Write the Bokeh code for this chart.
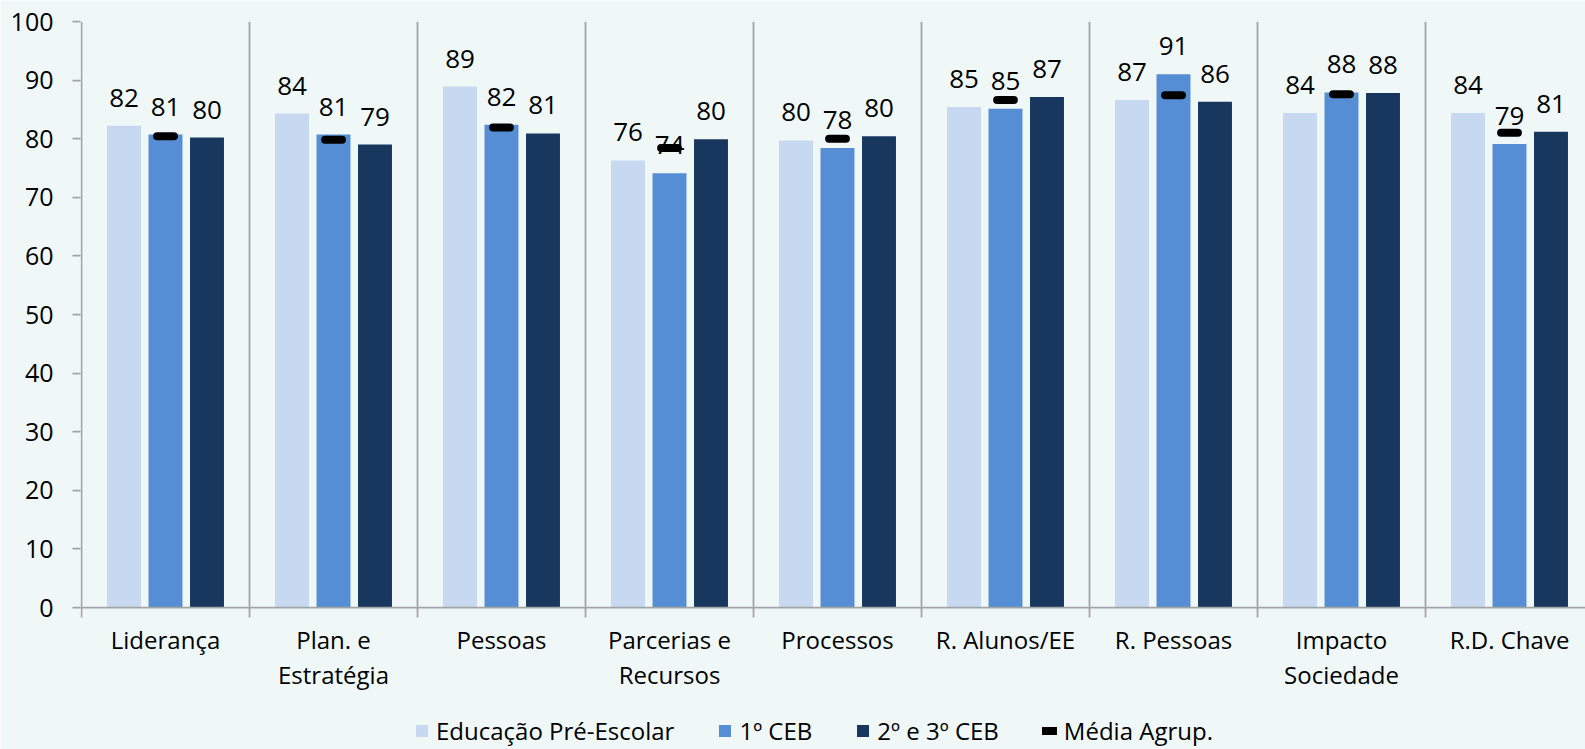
from bokeh.plotting import figure
from bokeh.models import Range1d, FixedTicker, Legend, LegendItem, ColumnDataSource
from bokeh.embed import file_html
from bokeh.resources import INLINE
from bokeh.core.properties import value

# ---- data ----
categories = ["Liderança", "Plan. e\nEstratégia", "Pessoas", "Parcerias e\nRecursos",
              "Processos", "R. Alunos/EE", "R. Pessoas", "Impacto\nSociedade", "R.D. Chave"]
pre_escolar = [82.2, 84.3, 88.9, 76.3, 79.7, 85.4, 86.6, 84.4, 84.4]
ceb1 = [80.7, 80.7, 82.4, 74.1, 78.4, 85.1, 91.0, 87.9, 79.1]
ceb23 = [80.2, 79.0, 80.9, 79.9, 80.4, 87.1, 86.3, 87.8, 81.2]
media = [80.4, 79.8, 81.9, 78.4, 80.0, 86.6, 87.4, 87.6, 81.0]
series_names = ["Educação Pré-Escolar", "1º CEB", "2º e 3º CEB", "Média Agrup."]
y_ticks = [0, 10, 20, 30, 40, 50, 60, 70, 80, 90, 100]

# ---- styles / geometry ----
BG = "#F0F8F7"
COLORS = ["#C6D9F1", "#558ED5", "#17375E"]
AXIS = "#A3A3A3"
FONT = "Open Sans"
FS_NUM = "26px"
FS_Y = "25px"
FS_TXT = "24px"

W, H = 1585, 749
LEFT, TOP = 80, 21
PLOT_H = 586              # pixels for 0..100
CAT_PX = 168.0            # pixels per category
PX_Y = PLOT_H / 100.0
n = len(categories)
centers = [i + 0.5 for i in range(n)]
OFF = 0.247
BW = 0.202
X0 = -1.0 / CAT_PX
X1 = X0 + (W - LEFT) / CAT_PX
Y0 = -(H - TOP - PLOT_H) / PX_Y
TICK = 10 / PX_Y

p = figure(width=W, height=H, output_backend="svg", toolbar_location=None,
           x_range=Range1d(X0, X1), y_range=Range1d(Y0, 100),
           x_axis_location=None,
           min_border_left=LEFT, min_border_right=0, min_border_top=TOP, min_border_bottom=0)
p.background_fill_color = BG
p.border_fill_color = BG
p.outline_line_color = None
p.xgrid.visible = False
p.ygrid.visible = False

bar_r = []
for k, (vals, col) in enumerate(zip([pre_escolar, ceb1, ceb23], COLORS)):
    xs = [c + (k - 1) * OFF for c in centers]
    src = ColumnDataSource(dict(x=xs, top=vals, lab=[f"{v:.0f}" for v in vals]))
    r = p.vbar(x="x", top="top", width=BW, bottom=0, source=src, fill_color=col, line_color=None)
    bar_r.append(r)
    p.text(x="x", y="top", text="lab", source=src, text_align="center", text_baseline="alphabetic",
           y_offset=-28, text_font=value(FONT), text_font_size=FS_NUM, text_color="black")

msrc = ColumnDataSource(dict(x0=[c - 0.05 for c in centers], x1=[c + 0.05 for c in centers], y=media))
mean_r = p.segment(x0="x0", y0="y", x1="x1", y1="y", source=msrc, line_color="black",
                   line_width=8, line_cap="round")

# category separators (incl. y-axis line) with ticks below the x axis
seps = list(range(0, n))
p.segment(x0=seps, y0=[-TICK] * n, x1=seps, y1=[100] * n, line_color=AXIS, line_width=1.75)
# x axis line
p.segment(x0=[X0], y0=[0], x1=[X1], y1=[0], line_color=AXIS, line_width=1.75)

# category labels
p.text(x=centers, y=[0] * n, text=categories, text_align="center", text_baseline="top",
       y_offset=15, text_line_height=1.07, text_font=value(FONT), text_font_size=FS_TXT,
       text_color="black")

# y axis (ticks + labels)
ya = p.yaxis[0]
ya.ticker = FixedTicker(ticks=y_ticks)
ya.major_tick_out = 8
ya.major_tick_in = 0
ya.minor_tick_out = 0
ya.minor_tick_in = 0
ya.major_tick_line_color = AXIS
ya.major_tick_line_width = 1.75
ya.axis_line_color = None
ya.major_label_standoff = 19
ya.major_label_text_font = FONT
ya.major_label_text_font_size = FS_Y
ya.major_label_text_color = "black"

legend = Legend(items=[LegendItem(label=nm, renderers=[r]) for nm, r in zip(series_names, bar_r + [mean_r])],
                location=(334, 2), orientation="horizontal")
legend.background_fill_alpha = 0
legend.border_line_color = None
legend.padding = 0
legend.margin = 0
legend.spacing = 43
legend.label_standoff = 7
legend.glyph_width = 15
legend.glyph_height = 15
legend.label_height = 15
legend.label_text_font = FONT
legend.label_text_font_size = FS_TXT
legend.label_text_color = "black"
p.add_layout(legend, "center")

open("out.html", "w").write(file_html(p, INLINE))
